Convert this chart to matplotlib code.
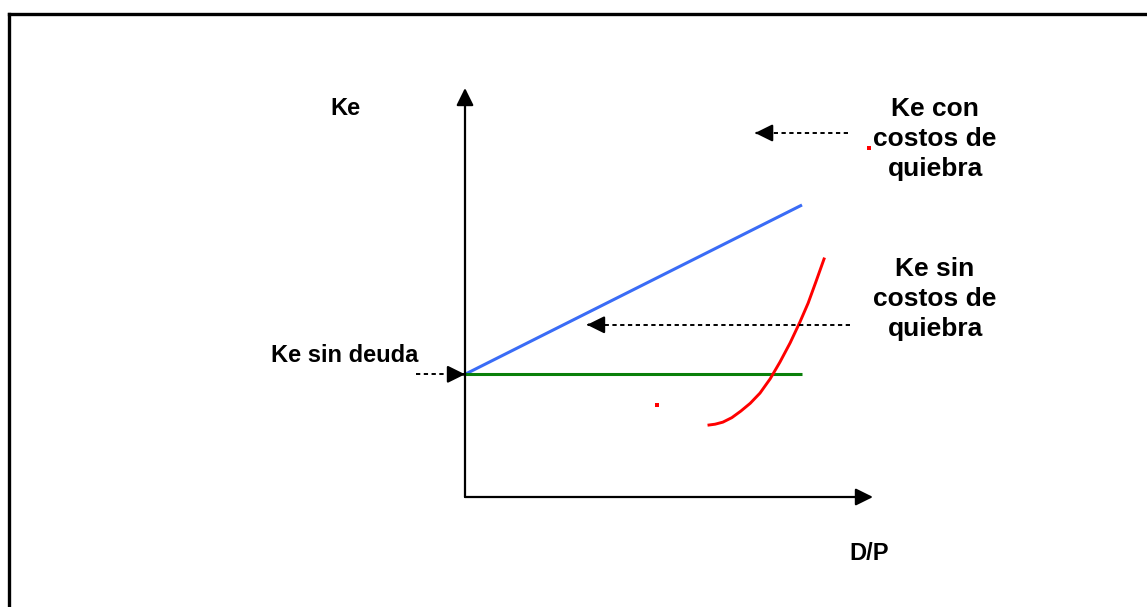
import matplotlib.pyplot as plt
from matplotlib.lines import Line2D

plt.rcParams['font.family'] = ['Liberation Sans', 'DejaVu Sans']

# Ke sin deuda (nivel inicial)
ke_sin_deuda = 3.0

# Ke con costos de quiebra (recta)
dp_lineal = [0.0, 8.26]
ke_lineal = [ke_sin_deuda, 7.14]

# Ke sin costos de quiebra (horizontal)
dp_plano = [0.0, 8.26]
ke_plano = [ke_sin_deuda, ke_sin_deuda]

# curva roja
dp_curva = [5.98, 6.13, 6.32, 6.54, 6.76, 6.99, 7.23, 7.48, 7.72, 7.97, 8.21, 8.41, 8.60, 8.80]
ke_curva = [1.76, 1.78, 1.83, 1.94, 2.10, 2.29, 2.54, 2.89, 3.30, 3.77, 4.28, 4.74, 5.26, 5.82]

# puntos rojos sueltos
dp_puntos = [9.90, 4.71]
ke_puntos = [8.53, 2.25]

W, H = 1147, 607
fig = plt.figure(figsize=(W / 100, H / 100), dpi=100)
fig.patch.set_facecolor('white')

# marco (borde izquierdo y superior)
fig.add_artist(Line2D([9 / W, 9 / W], [0, 1 - 14 / H], color='black', lw=2.4,
                      transform=fig.transFigure))
fig.add_artist(Line2D([9 / W, 1], [1 - 14 / H, 1 - 14 / H], color='black', lw=2.4,
                      transform=fig.transFigure))

ax = fig.add_axes([465 / W, (H - 497) / H, 408 / W, 409 / H])
ax.set_xlim(0, 10)
ax.set_ylim(0, 10)
ax.axis('off')

head = '-|>,head_length=1.05,head_width=0.52'


def flecha(tip, tail, dashed=False):
    if dashed:
        # tramo punteado y punta sólida aparte
        ax.plot([tail[0], tip[0]], [tail[1], tip[1]], color='black', lw=1.4,
                linestyle=(0, (2.2, 1.8)), clip_on=False)
        d = 0.05 if tail[0] < tip[0] else -0.05
        tail = (tip[0] - d, tip[1])
    ax.annotate('', xy=tip, xytext=tail, annotation_clip=False,
                arrowprops=dict(arrowstyle=head, mutation_scale=10, color='black',
                                lw=1.6, shrinkA=0, shrinkB=0))


# ejes con flecha
flecha((0, 10), (0, 0))
flecha((10, 0), (0, 0))

ax.plot(dp_lineal, ke_lineal, color='#3a6cf6', lw=2.2, solid_capstyle='butt')
ax.plot(dp_plano, ke_plano, color='#0a800a', lw=2.2, solid_capstyle='butt')
ax.plot(dp_curva, ke_curva, color='#ff0000', lw=2.1, clip_on=False)
ax.plot(dp_puntos, ke_puntos, 's', color='#ff0000', ms=2.4, mew=0, clip_on=False)

# flechas punteadas
flecha((7.11, 8.90), (9.39, 8.90), dashed=True)
flecha((2.99, 4.21), (9.44, 4.21), dashed=True)
flecha((0.0, ke_sin_deuda), (-1.20, ke_sin_deuda), dashed=True)

ax.text(-2.92, 9.49, 'Ke', fontsize=17, fontweight='bold', ha='center', va='center')
ax.text(-2.94, 3.45, 'Ke sin deuda', fontsize=17, fontweight='bold',
        ha='center', va='center')
ax.text(9.90, -1.37, 'D/P', fontsize=17, fontweight='bold', ha='center', va='center')
ax.text(11.52, 8.75, 'Ke con\ncostos de\nquiebra', fontsize=19, fontweight='bold',
        ha='center', va='center', linespacing=1.3)
ax.text(11.52, 4.84, 'Ke sin\ncostos de\nquiebra', fontsize=19, fontweight='bold',
        ha='center', va='center', linespacing=1.3)

fig.savefig('out.png', dpi=100, facecolor='white')
